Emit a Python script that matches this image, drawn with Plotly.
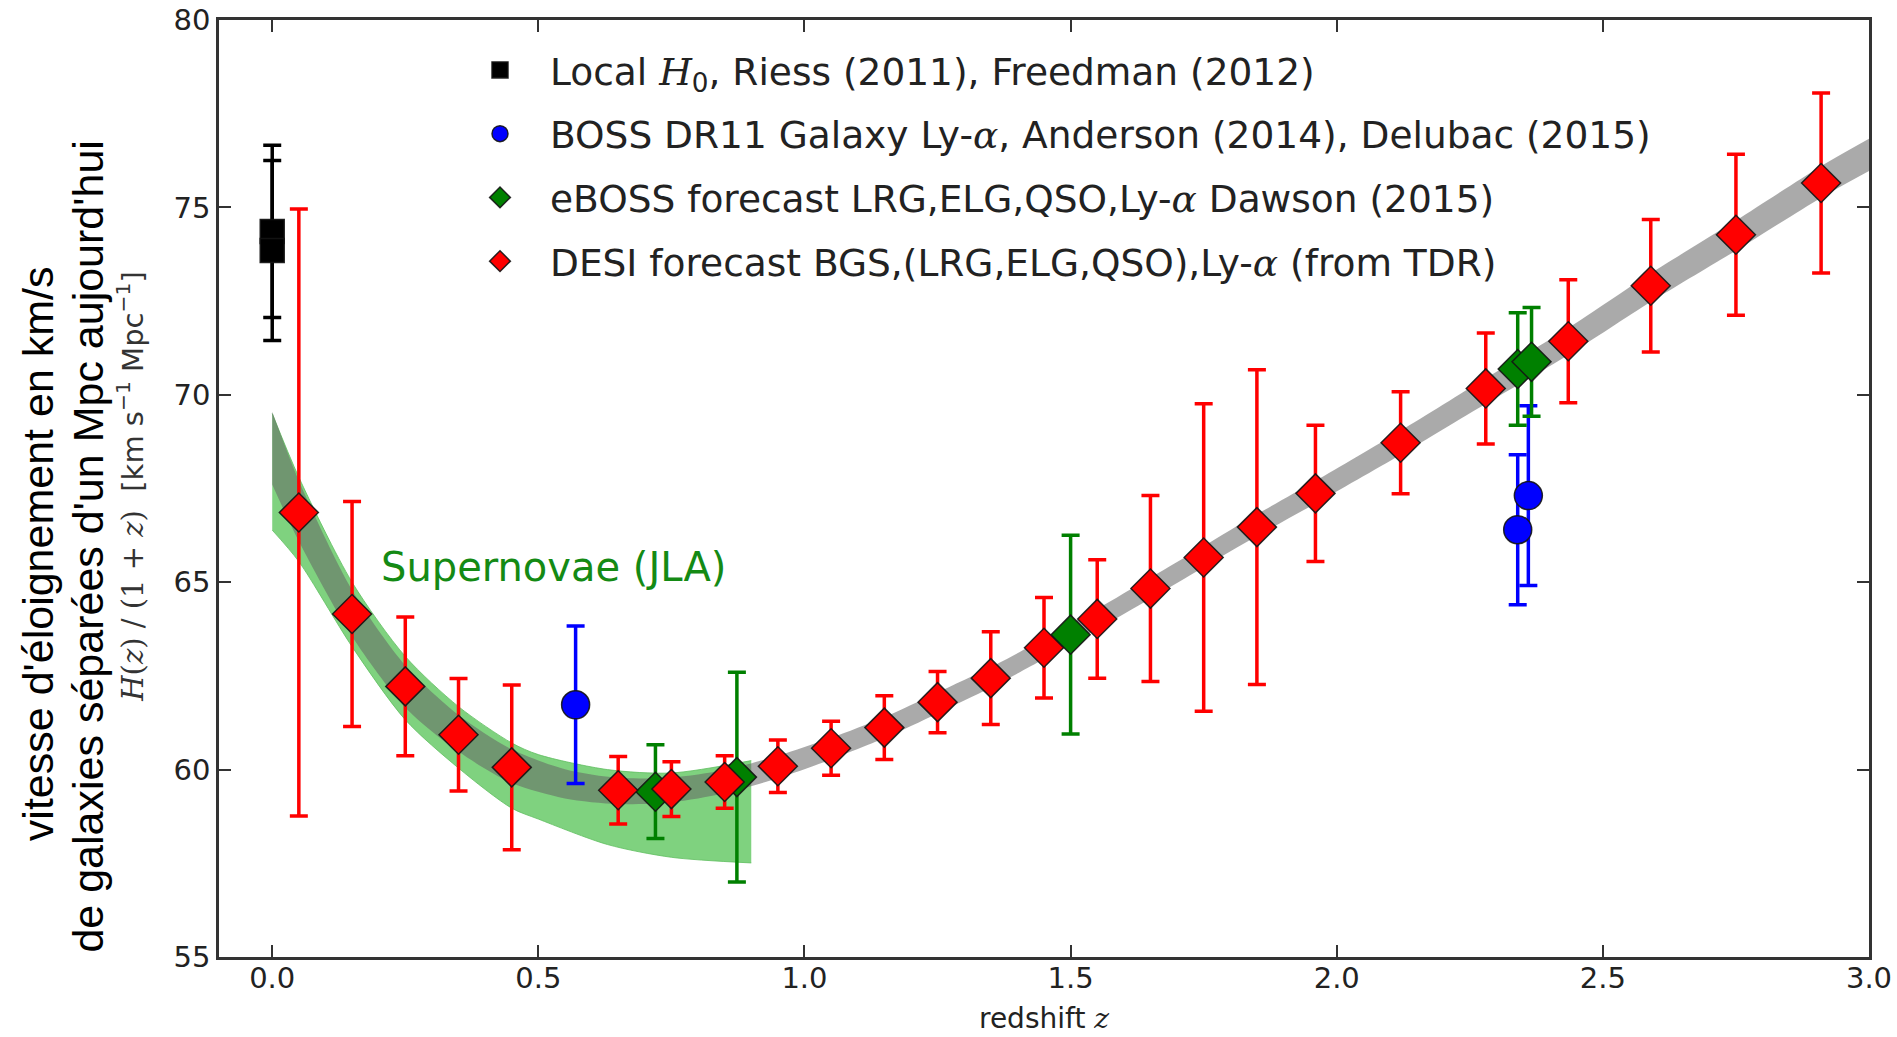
import plotly.graph_objects as go

# ---------------- data ----------------
# DESI forecast
desi_z = [0.05, 0.15, 0.25, 0.35, 0.45, 0.65, 0.75, 0.85, 0.95, 1.05, 1.15, 1.25,
          1.35, 1.45, 1.55, 1.65, 1.75, 1.85, 1.96, 2.12, 2.28, 2.435, 2.59, 2.75, 2.91]
desi_h = [66.86, 64.15, 62.22, 60.93, 60.06, 59.45, 59.48, 59.67, 60.09, 60.57, 61.12, 61.80,
          62.44, 63.25, 64.02, 64.83, 65.66, 66.47, 67.37, 68.72, 70.17, 71.43, 72.91, 74.27, 75.65]
desi_err = [8.1, 3.0, 1.85, 1.5, 2.2, 0.9, 0.73, 0.7, 0.7, 0.72, 0.85, 0.82,
            1.24, 1.34, 1.58, 2.48, 4.1, 4.2, 1.82, 1.36, 1.48, 1.64, 1.77, 2.15, 2.4]

# eBOSS forecast
eboss_z = [0.72, 0.873, 1.50, 2.34, 2.366]
eboss_h = [59.41, 59.80, 63.60, 70.69, 70.88]
eboss_err = [1.25, 2.8, 2.65, 1.5, 1.45]

# BOSS DR11
boss_z = [0.57, 2.34, 2.36]
boss_h = [61.73, 66.40, 67.31]
boss_err = [2.1, 2.0, 2.4]

# Local H0
loc_z = [0.0, 0.0]
loc_h = [74.36, 73.85]
loc_err = [2.3, 2.4]

# LCDM band (grey)
band_z = [0.0, 0.05, 0.15, 0.25, 0.35, 0.45, 0.55, 0.65, 0.75, 0.85, 0.95, 1.05, 1.15, 1.25,
          1.35, 1.45, 1.55, 1.65, 1.75, 1.85, 1.96, 2.12, 2.28, 2.435, 2.59, 2.75, 2.91, 3.0]
band_lo = [67.61, 66.09, 63.55, 61.66, 60.48, 59.64, 59.23, 59.08, 59.13, 59.37, 59.77, 60.27,
           60.84, 61.50, 62.19, 62.95, 63.75, 64.56, 65.40, 66.23, 67.10, 68.40, 69.76, 71.06,
           72.48, 73.85, 75.26, 75.97]
band_hi = [69.55, 67.71, 64.79, 62.78, 61.46, 60.54, 60.01, 59.78, 59.79, 59.99, 60.37, 60.85,
           61.40, 62.06, 62.73, 63.49, 64.29, 65.12, 65.96, 66.81, 67.70, 69.04, 70.44, 71.78,
           73.24, 74.65, 76.10, 76.83]

# Supernovae JLA band (green)
sn_z = [0.0, 0.05, 0.15, 0.25, 0.35, 0.45, 0.5, 0.63, 0.75, 0.9]
sn_lo = [66.39, 65.55, 63.28, 61.33, 60.04, 58.97, 58.68, 58.00, 57.66, 57.51]
sn_hi = [69.50, 67.80, 65.00, 63.02, 61.68, 60.71, 60.40, 60.00, 59.91, 60.24]

x_ticks = [0.0, 0.5, 1.0, 1.5, 2.0, 2.5, 3.0]
y_ticks = [55, 60, 65, 70, 75, 80]

SERIF = "<span style='font-family:DejaVu Serif'><i>{}</i></span>"
names = [
    "Local " + SERIF.format("H") + "<sub>0</sub>, Riess (2011), Freedman (2012)",
    "BOSS DR11 Galaxy Ly-" + SERIF.format("α") + ", Anderson (2014), Delubac (2015)",
    "eBOSS forecast LRG,ELG,QSO,Ly-" + SERIF.format("α") + " Dawson (2015)",
    "DESI forecast BGS,(LRG,ELG,QSO),Ly-" + SERIF.format("α") + " (from TDR)",
]

# ---------------- figure ----------------
fig = go.Figure()

# green supernova band
edge = dict(color="rgba(95,190,95,0.8)", width=1, shape="spline", smoothing=0.8)
fig.add_trace(go.Scatter(x=sn_z, y=sn_lo, mode="lines", line=edge, showlegend=False, hoverinfo="skip"))
fig.add_trace(go.Scatter(x=sn_z, y=sn_hi, mode="lines", line=edge, fill="tonexty",
                         fillcolor="rgb(127,210,127)", showlegend=False, hoverinfo="skip"))
# grey LCDM band
fig.add_trace(go.Scatter(x=band_z, y=band_lo, mode="lines", line=dict(width=0, shape="spline", smoothing=0.8),
                         showlegend=False, hoverinfo="skip"))
fig.add_trace(go.Scatter(x=band_z, y=band_hi, mode="lines", line=dict(width=0, shape="spline", smoothing=0.8),
                         fill="tonexty", fillcolor="rgba(100,100,100,0.55)", showlegend=False, hoverinfo="skip"))


def pts(x, y, err, color, symbol, size, name, group):
    return go.Scatter(
        x=x, y=y, mode="markers", name=name, legendgroup=group,
        marker=dict(color=color, symbol=symbol, size=size, line=dict(color="rgba(20,20,20,0.9)", width=1.5)),
        error_y=dict(type="data", array=err, visible=True, color=color, thickness=3.5, width=9),
    )


fig.add_trace(pts(loc_z, loc_h, loc_err, "black", "square", 24, names[0], "a"))
fig.add_trace(pts(boss_z, boss_h, boss_err, "rgb(0,0,255)", "circle", 28, names[1], "b"))
fig.add_trace(pts(eboss_z, eboss_h, eboss_err, "rgb(0,128,0)", "diamond", 30, names[2], "c"))
fig.add_trace(pts(desi_z, desi_h, desi_err, "rgb(255,0,0)", "diamond", 30, names[3], "d"))

fig.add_annotation(x=0.2, y=65.4, xref="x", yref="y", xanchor="left", yanchor="middle",
                   text="Supernovae (JLA)", showarrow=False,
                   font=dict(family="DejaVu Sans", size=40, color="rgb(20,138,20)"))

# axis labels
fig.add_annotation(x=0.5, y=-0.066, xref="paper", yref="paper", xanchor="center", yanchor="middle",
                   text="redshift " + SERIF.format("z"), showarrow=False,
                   font=dict(family="DejaVu Sans", size=28, color="#222"))
fig.add_annotation(x=-0.1097, y=0.431, xref="paper", yref="paper", xanchor="center", yanchor="middle",
                   text="vitesse d'éloignement en km/s", textangle=-90, showarrow=False,
                   font=dict(family="Liberation Sans", size=43, color="black"))
fig.add_annotation(x=-0.0794, y=0.438, xref="paper", yref="paper", xanchor="center", yanchor="middle",
                   text="de galaxies séparées d'un Mpc aujourd'hui", textangle=-90, showarrow=False,
                   font=dict(family="Liberation Sans", size=43, color="black"))
fig.add_annotation(x=-0.0539, y=0.502, xref="paper", yref="paper", xanchor="center", yanchor="middle",
                   text="<span style='font-family:DejaVu Serif'><i>H</i>(<i>z</i>) / (1 + <i>z</i>)</span>  [km s<sup>−1</sup> Mpc<sup>−1</sup>]",
                   textangle=-90, showarrow=False,
                   font=dict(family="DejaVu Sans", size=29, color="#333"))

axis_common = dict(showline=True, linecolor="#333", linewidth=2.5, mirror="ticks",
                   ticks="inside", ticklen=12, tickwidth=1.5, tickcolor="#333",
                   showgrid=False, zeroline=False, automargin=False, ticklabeloverflow="allow",
                   tickfont=dict(family="DejaVu Sans", size=29, color="#222"))

fig.update_xaxes(range=[-0.1, 3.0], tickvals=x_ticks, tickformat=".1f", ticklabelstandoff=-7, **axis_common)
fig.update_yaxes(range=[55, 80], tickvals=y_ticks, **axis_common)

fig.update_layout(
    width=1897, height=1037, autosize=False,
    margin=dict(l=219, r=28, t=20, b=80),
    paper_bgcolor="white", plot_bgcolor="white",
    legend=dict(x=0.14, y=0.9797, xanchor="left", yanchor="top",
                bgcolor="rgba(0,0,0,0)", font=dict(family="DejaVu Sans", size=37.5, color="#222"),
                traceorder="grouped", tracegroupgap=12, itemwidth=90),
    showlegend=True,
)

fig.write_html("out.html", config={"displayModeBar": False},
               post_script="document.body.style.margin='0px';document.body.style.overflow='hidden';")
